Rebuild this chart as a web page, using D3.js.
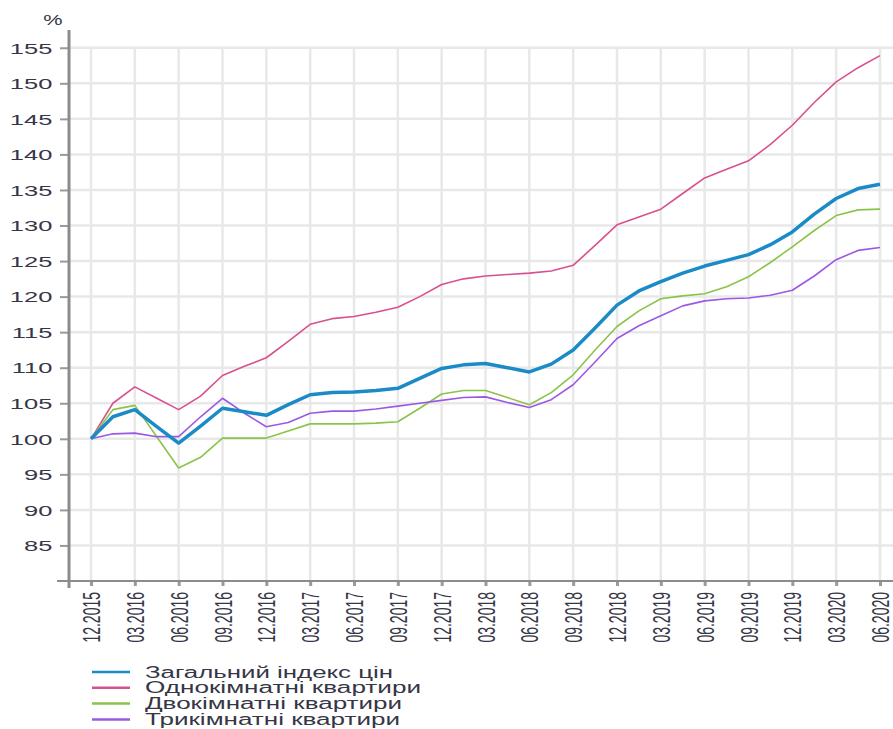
<!DOCTYPE html>
<html>
<head>
<meta charset="utf-8">
<script src="https://cdn.jsdelivr.net/npm/d3@7"></script>
<style>
  body { margin: 0; background: #fff; }
  svg { display: block; font-family: "Liberation Sans", Arial, sans-serif; }
</style>
</head>
<body>
<svg id="chart" width="893" height="729"></svg>
<script>
// quarter labels on the x axis (data runs every half quarter)
var tickLabels = ["12.2015","03.2016","06.2016","09.2016","12.2016","03.2017","06.2017","09.2017",
  "12.2017","03.2018","06.2018","09.2018","12.2018","03.2019","06.2019","09.2019","12.2019","03.2020","06.2020"];

var seriesNames = ["Загальний індекс цін","Однокімнатні квартири","Двокімнатні квартири","Трикімнатні квартири"];
var seriesColors = ["#1a8bc6","#d9508f","#8bc34a","#9b59e3"];
var seriesWidths = [3.5, 1.6, 1.6, 1.6];

var total = [100,103.1,104.1,101.7,99.4,101.8,104.3,103.8,103.3,104.8,106.2,106.5,106.6,106.8,107.1,108.5,109.9,110.4,
  110.6,110.0,109.4,110.5,112.5,115.6,118.8,120.8,122.1,123.3,124.3,125.1,125.9,127.3,129.1,131.6,133.8,135.2,135.8];
var oneRoom = [100,105.0,107.3,105.7,104.1,106.0,108.9,110.2,111.4,113.7,116.1,116.9,117.2,117.8,118.5,120.0,121.7,122.5,
  122.9,123.1,123.3,123.6,124.4,127.2,130.1,131.2,132.3,134.5,136.7,137.9,139.1,141.4,144.1,147.3,150.2,152.2,153.9];
var twoRoom = [100,104.1,104.7,100.3,95.9,97.4,100.1,100.1,100.1,101.1,102.1,102.1,102.1,102.2,102.4,104.3,106.3,106.8,
  106.8,105.8,104.8,106.5,109.0,112.5,115.8,118.0,119.7,120.1,120.4,121.4,122.8,124.8,127.0,129.3,131.4,132.2,132.3];
var threeRoom = [100,100.7,100.8,100.3,100.3,103.1,105.7,103.6,101.7,102.3,103.6,103.9,103.9,104.2,104.6,105.0,105.4,105.8,
  105.9,105.1,104.4,105.5,107.6,110.8,114.1,115.9,117.3,118.7,119.4,119.7,119.8,120.2,120.9,122.9,125.2,126.5,126.9];

var yTicks = d3.range(85, 156, 5);

var svg = d3.select("#chart");
var textColor = "#363646";

var x = d3.scaleLinear().domain([0, 36]).range([91, 880]);
var y = d3.scaleLinear().domain([80, 157.5]).range([581, 30]);

// grid
var grid = svg.append("g");
grid.selectAll(".hg").data(yTicks).enter().append("line")
  .attr("x1", 69).attr("x2", 893)
  .attr("y1", d => y(d)).attr("y2", d => y(d))
  .attr("stroke", "#e8e8e8").attr("stroke-width", 2.5);
grid.selectAll(".vg").data(tickLabels).enter().append("line")
  .attr("x1", (d, i) => x(i * 2)).attr("x2", (d, i) => x(i * 2))
  .attr("y1", y(155)).attr("y2", 581)
  .attr("stroke", "#e8e8e8").attr("stroke-width", 2.5);

// y axis
var yAxis = svg.append("g").attr("transform", "translate(69,0)")
  .call(d3.axisLeft(y).tickValues(yTicks).tickSize(9).tickSizeOuter(0));
yAxis.select(".domain").remove();
yAxis.selectAll("line").attr("stroke", "#9a9a9a").attr("stroke-width", 2);
yAxis.selectAll("text")
  .attr("x", -9.8).attr("dy", "0.35em")
  .attr("transform", "scale(1.7,1)")
  .attr("fill", textColor).style("font-size", "15px");

// x axis
var xAxis = svg.append("g").attr("transform", "translate(0,581)")
  .call(d3.axisBottom(x).tickValues(d3.range(0, 37, 2)).tickSize(5).tickSizeOuter(0)
    .tickFormat(d => tickLabels[d / 2]));
xAxis.select(".domain").remove();
xAxis.selectAll("line").attr("stroke", "#9a9a9a").attr("stroke-width", 3);
xAxis.selectAll("text")
  .attr("x", 0).attr("y", 0).attr("dy", null)
  .attr("text-anchor", "end")
  .attr("dominant-baseline", "central")
  .attr("transform", "translate(0,11) scale(1.75,1) rotate(-90)")
  .attr("fill", textColor).style("font-size", "14px");

// axis lines
svg.append("line").attr("x1", 69).attr("x2", 69).attr("y1", 30).attr("y2", 588)
  .attr("stroke", "#8c8c8c").attr("stroke-width", 3);
svg.append("line").attr("x1", 57).attr("x2", 893).attr("y1", 581).attr("y2", 581)
  .attr("stroke", "#8c8c8c").attr("stroke-width", 2);

svg.append("text").attr("x", 53).attr("y", 25)
  .attr("text-anchor", "middle").attr("transform", "translate(53,0) scale(1.55,1) translate(-53,0)")
  .attr("fill", textColor).style("font-size", "14px").text("%");

// lines
var allSeries = [total, oneRoom, twoRoom, threeRoom];
var line = d3.line().x((d, i) => x(i)).y(d => y(d));
var drawOrder = [1, 2, 3, 0];
drawOrder.forEach(function (s) {
  svg.append("path").datum(allSeries[s])
    .attr("d", line)
    .attr("fill", "none")
    .attr("stroke", seriesColors[s])
    .attr("stroke-width", seriesWidths[s])
    .attr("stroke-linejoin", "round");
});

// legend
var legendWidths = [248, 276, 257, 255];
var legend = svg.append("g");
seriesNames.forEach(function (name, i) {
  var ly = 672 + i * 15.8;
  legend.append("line").attr("x1", 92).attr("x2", 130).attr("y1", ly).attr("y2", ly)
    .attr("stroke", seriesColors[i]).attr("stroke-width", 2.5);
  legend.append("text").attr("x", 145).attr("y", ly)
    .attr("dominant-baseline", "central")
    .attr("textLength", legendWidths[i]).attr("lengthAdjust", "spacingAndGlyphs")
    .attr("fill", textColor).style("font-size", "16px").text(name);
});
</script>
</body>
</html>
